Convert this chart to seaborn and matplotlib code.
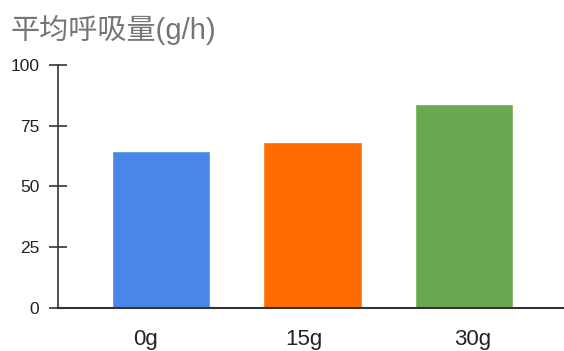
import matplotlib
matplotlib.use("Agg")
import matplotlib.pyplot as plt
import seaborn as sns
import pandas as pd

categories = ["0g", "15g", "30g"]
values = [64.6, 68.4, 83.7]
colors = ["#4a86e8", "#ff6d01", "#6aa84f"]
y_ticks = [0, 25, 50, 75, 100]
label_positions = [-0.10, 0.94, 2.06]
title = "平均呼吸量(g/h)"

sns.set_theme(style="white")
plt.rcParams["font.family"] = ["Liberation Sans", "Noto Sans CJK SC", "DejaVu Sans"]

df = pd.DataFrame({"cat": categories, "val": values})

fig = plt.figure(figsize=(5.64, 3.51), dpi=100)
ax = fig.add_axes([0.1028, 0.1225, 0.8972, 0.6932])

sns.barplot(data=df, x="cat", y="val", hue="cat", palette=colors,
            width=0.65, saturation=1, legend=False, ax=ax)

ax.set_xlim(-0.68, 2.66)
ax.set_ylim(0, 100)
ax.set_yticks(y_ticks)
ax.set_xticks(label_positions, categories)
ax.set_xlabel("")
ax.set_ylabel("")

for side in ["top", "right"]:
    ax.spines[side].set_visible(False)
ax.spines["left"].set_color("#333333")
ax.spines["left"].set_linewidth(1.2)
ax.spines["bottom"].set_color("#333333")
ax.spines["bottom"].set_linewidth(1.5)

ax.tick_params(axis="y", direction="inout", length=13, width=1.2,
               color="#333333", labelsize=12.5, labelcolor="#222222", pad=7,
               left=True)
ax.tick_params(axis="x", length=0, labelsize=16, labelcolor="#222222", pad=15)

fig.text(0.018, 0.958, title, fontsize=21, color="#757575",
         family=["Liberation Sans", "Noto Sans CJK SC", "DejaVu Sans"],
         va="top", ha="left")

fig.savefig("out.png", dpi=100, facecolor="white")
